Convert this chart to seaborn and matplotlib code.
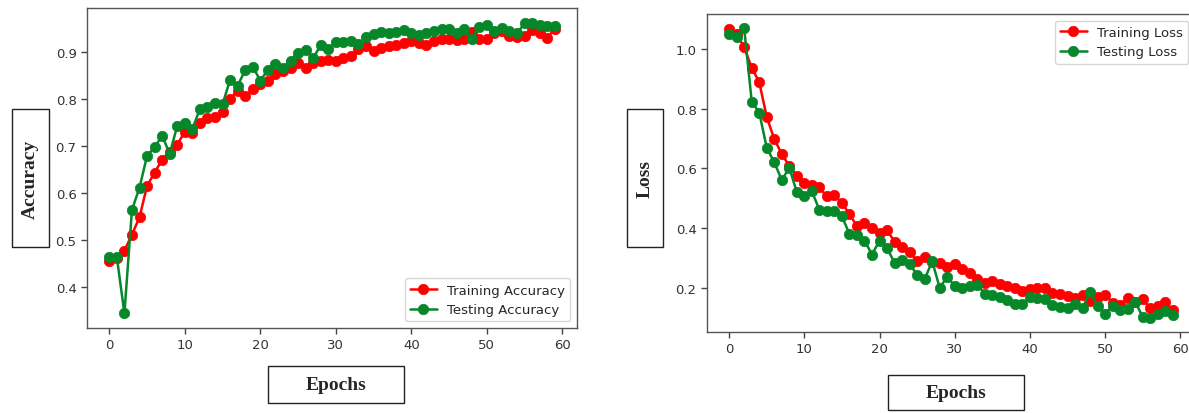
import numpy as np
import matplotlib
matplotlib.use('Agg')
import matplotlib.pyplot as plt
from matplotlib.patches import Rectangle
from matplotlib.ticker import MultipleLocator
import seaborn as sns

epochs = list(range(60))

train_acc = [0.455, 0.462, 0.477, 0.511, 0.548, 0.615, 0.643, 0.671, 0.688, 0.703,
             0.730, 0.727, 0.749, 0.759, 0.761, 0.773, 0.800, 0.818, 0.806, 0.821,
             0.832, 0.839, 0.853, 0.860, 0.867, 0.877, 0.867, 0.877, 0.882, 0.884,
             0.881, 0.887, 0.891, 0.906, 0.913, 0.902, 0.909, 0.914, 0.916, 0.920,
             0.923, 0.920, 0.915, 0.923, 0.928, 0.928, 0.925, 0.928, 0.943, 0.928,
             0.928, 0.941, 0.945, 0.934, 0.933, 0.934, 0.948, 0.941, 0.930, 0.950]
test_acc = [0.464, 0.463, 0.343, 0.564, 0.611, 0.679, 0.697, 0.722, 0.683, 0.743,
            0.749, 0.736, 0.779, 0.782, 0.791, 0.789, 0.841, 0.828, 0.862, 0.869,
            0.839, 0.862, 0.875, 0.867, 0.882, 0.899, 0.905, 0.887, 0.915, 0.906,
            0.921, 0.921, 0.923, 0.917, 0.932, 0.938, 0.943, 0.941, 0.943, 0.947,
            0.941, 0.936, 0.941, 0.945, 0.950, 0.950, 0.941, 0.950, 0.928, 0.954,
            0.957, 0.945, 0.952, 0.945, 0.940, 0.961, 0.963, 0.957, 0.955, 0.955]

train_loss = [1.067, 1.050, 1.006, 0.937, 0.889, 0.772, 0.698, 0.648, 0.608, 0.574,
              0.552, 0.543, 0.536, 0.506, 0.511, 0.483, 0.447, 0.406, 0.417, 0.400,
              0.383, 0.394, 0.353, 0.336, 0.320, 0.289, 0.302, 0.287, 0.283, 0.271,
              0.280, 0.261, 0.250, 0.228, 0.217, 0.222, 0.213, 0.206, 0.200, 0.189,
              0.194, 0.200, 0.200, 0.183, 0.180, 0.172, 0.167, 0.176, 0.156, 0.169,
              0.176, 0.150, 0.142, 0.164, 0.153, 0.161, 0.131, 0.139, 0.153, 0.124]
test_loss = [1.050, 1.039, 1.069, 0.824, 0.787, 0.669, 0.620, 0.561, 0.602, 0.520,
             0.508, 0.523, 0.461, 0.458, 0.456, 0.439, 0.380, 0.376, 0.358, 0.311,
             0.358, 0.333, 0.283, 0.294, 0.278, 0.244, 0.228, 0.289, 0.200, 0.236,
             0.206, 0.200, 0.206, 0.209, 0.180, 0.176, 0.169, 0.158, 0.147, 0.144,
             0.169, 0.164, 0.161, 0.142, 0.136, 0.131, 0.147, 0.131, 0.187, 0.139,
             0.111, 0.139, 0.124, 0.128, 0.153, 0.102, 0.100, 0.111, 0.122, 0.109]

RED = '#ff0000'
GREEN = '#05872a'

sns.set_style('white')
plt.rcParams['font.family'] = ['DejaVu Sans']

fig = plt.figure(figsize=(11.89, 4.14), dpi=100)
ax1 = fig.add_axes([0.0732, 0.2053, 0.4121, 0.7730])
ax2 = fig.add_axes([0.5946, 0.1957, 0.4104, 0.7681])


def draw(ax, y, color, label):
    sns.lineplot(x=epochs, y=y, ax=ax, color=color, label=label, marker='o',
                 markersize=7.5, markeredgecolor=color, markeredgewidth=0.5,
                 linewidth=1.8)


draw(ax1, train_acc, RED, 'Training Accuracy')
draw(ax1, test_acc, GREEN, 'Testing Accuracy')
draw(ax2, train_loss, RED, 'Training Loss')
draw(ax2, test_loss, GREEN, 'Testing Loss')

ax1.yaxis.set_major_locator(MultipleLocator(0.1))
ax2.yaxis.set_major_locator(MultipleLocator(0.2))

for ax, loc in [(ax1, 'lower right'), (ax2, 'upper right')]:
    ax.set_xticks(np.arange(0, 61, 10))
    ax.set_xlabel('')
    ax.set_ylabel('')
    ax.tick_params(axis='both', which='major', direction='out', length=4, width=1,
                   color='#444444', labelcolor='#333333', labelsize=9.5, bottom=True, left=True)
    for s in ax.spines.values():
        s.set_color('#555555')
        s.set_linewidth(1.0)
    ax.legend(loc=loc, fontsize=9.5, frameon=True)

# boxed axis labels
boxes = [
    (0.0101, 0.401, 0.0311, 0.333, 'Accuracy', 90),
    (0.2254, 0.0242, 0.1144, 0.0894, 'Epochs', 0),
    (0.5273, 0.401, 0.0303, 0.333, 'Loss', 90),
    (0.7468, 0.0072, 0.1144, 0.0845, 'Epochs', 0),
]
for x0, y0, w, h, txt, rot in boxes:
    fig.patches.append(Rectangle((x0, y0), w, h, transform=fig.transFigure,
                                 fill=False, edgecolor='#222222', linewidth=1.0))
    fig.text(x0 + w / 2, y0 + h / 2, txt, rotation=rot, ha='center', va='center',
             fontsize=14, fontweight='bold', family='Liberation Serif')

fig.savefig('out.png', dpi=100)
